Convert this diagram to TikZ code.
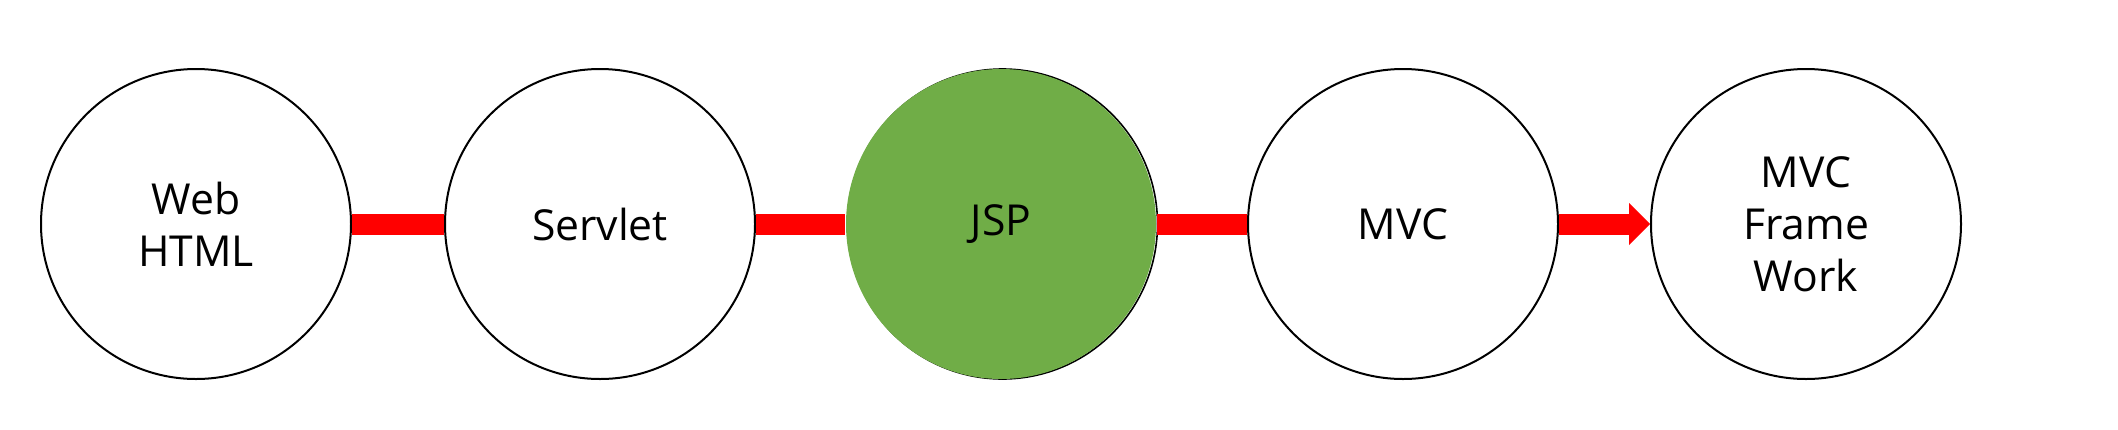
\documentclass[tikz,border=0pt]{standalone}
\usepackage{fontspec}
\setmainfont{Open Sans}
\usetikzlibrary{arrows.meta}

\definecolor{jspgreen}{RGB}{112,173,71}

\tikzset{every picture/.style={line width=0.75pt}}
\tikzset{
  stage/.style={circle, draw=black, line width=1.5pt, fill=white, minimum size=232.5pt, inner sep=0pt, align=center, font=\fontsize{32}{39}\selectfont},
  bar/.style={draw=red, line width=15.75pt}
}

\begin{document}
\begin{tikzpicture}[x=0.75pt,y=0.75pt,yscale=-1,xscale=1]
%set diagram left start at 0, and has size of 2118x429
\useasboundingbox (0,0) rectangle (2118,429);

%Shape: Circle outline behind JSP
\draw [line width=1.2pt] (1002.5,224) circle [radius=116.25pt];

% Text Node
\node [stage] (web) at (196,224) {Web\\HTML};
% Text Node
\node [stage] (servlet) at (600,224) {Servlet};
% Text Node
\node [stage, draw=none, fill=jspgreen] (jsp) at (1001,224) {JSP};
% Text Node
\node [stage] (mvc) at (1403,224) {MVC};
% Text Node
\node [stage] (frame) at (1806,224) {MVC\\Frame\\Work};

%Straight Lines
\draw [bar] (web) -- (servlet);
\draw [bar] (servlet) -- (jsp);
\draw [bar] (jsp) -- (mvc);
\draw [bar, -{Triangle[length=15.75pt 0, width=31.5pt 0, line width=0pt]}] (mvc) -- (frame);

\end{tikzpicture}
\end{document}
